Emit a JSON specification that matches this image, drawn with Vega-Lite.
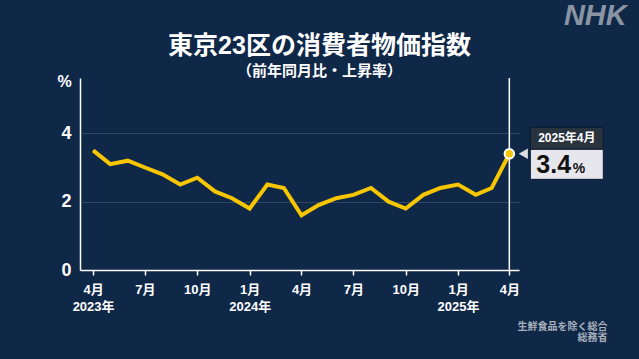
{
  "$schema": "https://vega.github.io/schema/vega-lite/v6.json",
  "width": 439,
  "height": 192,
  "autosize": {"type": "none"},
  "padding": {"left": 80, "top": 78, "right": 120, "bottom": 89},
  "background": "#0f2848",
  "config": {"view": {"stroke": null}, "font": "Liberation Sans, Noto Sans CJK JP"},
  "title": {
    "text": "東京23区の消費者物価指数",
    "subtitle": "（前年同月比・上昇率）",
    "color": "white",
    "subtitleColor": "white",
    "font": "Liberation Sans, Noto Sans CJK JP",
    "subtitleFont": "Liberation Sans, Noto Sans CJK JP",
    "fontSize": 25,
    "subtitleFontSize": 15,
    "fontWeight": "bold",
    "subtitleFontWeight": "bold",
    "anchor": "middle",
    "dx": 20,
    "dy": 79.5,
    "offset": 2,
    "subtitlePadding": 5
  },
  "datasets": {
    "cpi": [
      {"date": "2023-04-01", "value": 3.5},
      {"date": "2023-05-01", "value": 3.1},
      {"date": "2023-06-01", "value": 3.2},
      {"date": "2023-07-01", "value": 3.0},
      {"date": "2023-08-01", "value": 2.8},
      {"date": "2023-09-01", "value": 2.5},
      {"date": "2023-10-01", "value": 2.7},
      {"date": "2023-11-01", "value": 2.3},
      {"date": "2023-12-01", "value": 2.1},
      {"date": "2024-01-01", "value": 1.8},
      {"date": "2024-02-01", "value": 2.5},
      {"date": "2024-03-01", "value": 2.4},
      {"date": "2024-04-01", "value": 1.6},
      {"date": "2024-05-01", "value": 1.9},
      {"date": "2024-06-01", "value": 2.1},
      {"date": "2024-07-01", "value": 2.2},
      {"date": "2024-08-01", "value": 2.4},
      {"date": "2024-09-01", "value": 2.0},
      {"date": "2024-10-01", "value": 1.8},
      {"date": "2024-11-01", "value": 2.2},
      {"date": "2024-12-01", "value": 2.4},
      {"date": "2025-01-01", "value": 2.5},
      {"date": "2025-02-01", "value": 2.2},
      {"date": "2025-03-01", "value": 2.4},
      {"date": "2025-04-01", "value": 3.4}
    ],
    "latest": [
      {"date": "2025-04-01", "value": 3.4, "period": "2025年4月", "unit": "%", "logo": "NHK"}
    ]
  },
  "layer": [
    {
      "data": {"name": "latest"},
      "mark": {"type": "rule", "color": "white", "strokeWidth": 1.5},
      "encoding": {
        "x": {"field": "date", "type": "temporal"}
      }
    },
    {
      "data": {"name": "cpi"},
      "mark": {"type": "line", "color": "#f7c600", "strokeWidth": 4},
      "encoding": {
        "x": {
          "field": "date",
          "type": "temporal",
          "scale": {
            "type": "utc",
            "domain": [
              {"year": 2023, "month": 3, "date": 9, "utc": true},
              {"year": 2025, "month": 4, "date": 18, "utc": true}
            ]
          },
          "axis": {
            "values": [
              {"year": 2023, "month": 4, "date": 1, "utc": true},
              {"year": 2023, "month": 7, "date": 1, "utc": true},
              {"year": 2023, "month": 10, "date": 1, "utc": true},
              {"year": 2024, "month": 1, "date": 1, "utc": true},
              {"year": 2024, "month": 4, "date": 1, "utc": true},
              {"year": 2024, "month": 7, "date": 1, "utc": true},
              {"year": 2024, "month": 10, "date": 1, "utc": true},
              {"year": 2025, "month": 1, "date": 1, "utc": true},
              {"year": 2025, "month": 4, "date": 1, "utc": true}
            ],
            "labelExpr": "[(utcmonth(datum.value) + 1) + '月', (utcmonth(datum.value) == 0 || (utcyear(datum.value) == 2023 && utcmonth(datum.value) == 3)) ? utcyear(datum.value) + '年' : '']",
            "grid": false,
            "domainColor": "white",
            "domainWidth": 1.5,
            "tickColor": "white",
            "tickWidth": 1.5,
            "tickSize": 5,
            "labelColor": "white",
            "labelFontSize": 13,
            "labelFontWeight": "bold",
            "labelPadding": 8,
            "labelLineHeight": 17,
            "labelFlush": false,
            "labelOverlap": false,
            "title": ["生鮮食品を除く総合", "総務省"],
            "titleColor": "#a9b0bb",
            "titleFontSize": 10,
            "titleFontWeight": "bold",
            "titleAlign": "right",
            "titleAnchor": null,
            "titleX": 527,
            "titleY": 51,
            "titleBaseline": "top",
            "titleLineHeight": 11
          }
        },
        "y": {
          "field": "value",
          "type": "quantitative",
          "scale": {"domain": [0, 5.62], "nice": false},
          "axis": {
            "values": [0, 2, 4],
            "grid": true,
            "gridColor": "#2e4668",
            "gridWidth": 1,
            "domainColor": "white",
            "domainWidth": 1.5,
            "ticks": false,
            "labelColor": "white",
            "labelFontSize": 18,
            "labelFontWeight": "bold",
            "labelPadding": 9,
            "title": "%",
            "titleAngle": 0,
            "titleX": -16,
            "titleY": 3,
            "titleAlign": "center",
            "titleBaseline": "middle",
            "titleFontSize": 16,
            "titleFontWeight": "bold",
            "titleColor": "white"
          }
        }
      }
    },
    {
      "data": {"name": "latest"},
      "mark": {"type": "point", "filled": true, "fill": "#f7c600", "stroke": "white", "strokeWidth": 2, "size": 90, "opacity": 1},
      "encoding": {
        "x": {"field": "date", "type": "temporal"},
        "y": {"field": "value", "type": "quantitative"}
      }
    },
    {
      "data": {"name": "latest"},
      "mark": {"type": "rect", "fill": "#29333e", "stroke": "#0a1a30", "strokeWidth": 1, "xOffset": 21, "x2Offset": 94, "yOffset": -26.5, "y2Offset": -4.5},
      "encoding": {
        "x": {"field": "date", "type": "temporal"},
        "x2": {"field": "date"},
        "y": {"field": "value", "type": "quantitative"},
        "y2": {"field": "value"}
      }
    },
    {
      "data": {"name": "latest"},
      "mark": {"type": "rect", "fill": "#e6e6ec", "stroke": "#0a1a30", "strokeWidth": 1, "xOffset": 21, "x2Offset": 94, "yOffset": -4.5, "y2Offset": 25.5},
      "encoding": {
        "x": {"field": "date", "type": "temporal"},
        "x2": {"field": "date"},
        "y": {"field": "value", "type": "quantitative"},
        "y2": {"field": "value"}
      }
    },
    {
      "data": {"name": "latest"},
      "mark": {"type": "point", "shape": "triangle-left", "filled": true, "fill": "#dcdde3", "size": 110, "opacity": 1, "xOffset": 14},
      "encoding": {
        "x": {"field": "date", "type": "temporal"},
        "y": {"field": "value", "type": "quantitative"}
      }
    },
    {
      "data": {"name": "latest"},
      "mark": {"type": "text", "color": "white", "fontSize": 12, "fontWeight": "bold", "align": "center", "baseline": "middle", "xOffset": 57.5, "yOffset": -15.5},
      "encoding": {
        "x": {"field": "date", "type": "temporal"},
        "y": {"field": "value", "type": "quantitative"},
        "text": {"field": "period"}
      }
    },
    {
      "data": {"name": "latest"},
      "mark": {"type": "text", "color": "#111111", "fontSize": 25, "fontWeight": "bold", "align": "left", "baseline": "alphabetic", "xOffset": 27, "yOffset": 19},
      "encoding": {
        "x": {"field": "date", "type": "temporal"},
        "y": {"field": "value", "type": "quantitative"},
        "text": {"field": "value", "type": "quantitative", "format": ".1f"}
      }
    },
    {
      "data": {"name": "latest"},
      "mark": {"type": "text", "color": "#111111", "fontSize": 14, "fontWeight": "bold", "align": "left", "baseline": "alphabetic", "xOffset": 63.5, "yOffset": 19},
      "encoding": {
        "x": {"field": "date", "type": "temporal"},
        "y": {"field": "value", "type": "quantitative"},
        "text": {"field": "unit"}
      }
    },
    {
      "data": {"name": "latest"},
      "mark": {"type": "text", "color": "#8a94a3", "font": "Liberation Sans", "fontSize": 29, "fontWeight": "bold", "fontStyle": "italic", "align": "center", "baseline": "middle", "xOffset": 86, "yOffset": -138},
      "encoding": {
        "x": {"field": "date", "type": "temporal"},
        "y": {"field": "value", "type": "quantitative"},
        "text": {"field": "logo"}
      }
    }
  ]
}
